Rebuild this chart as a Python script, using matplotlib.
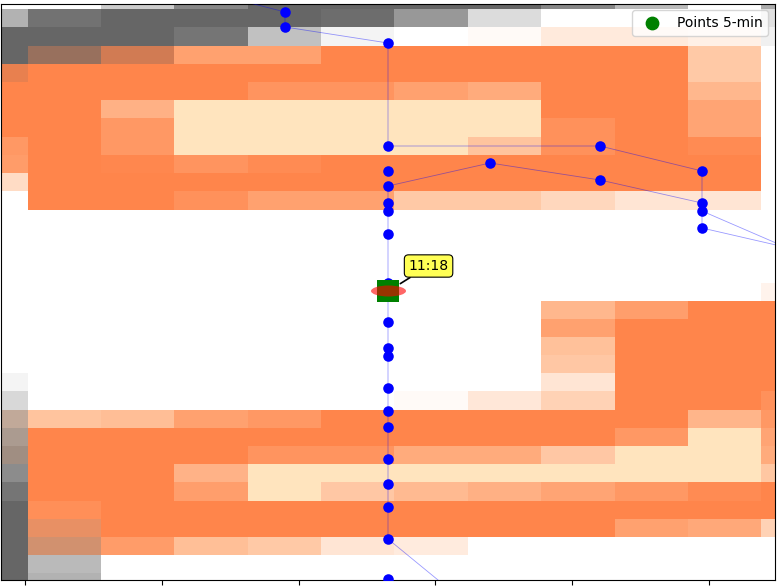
import numpy as np
import matplotlib
matplotlib.use('Agg')
import matplotlib.pyplot as plt
from matplotlib.colors import LinearSegmentedColormap
from matplotlib.patches import Ellipse

M = 120  # top class, drawn pale yellow

x_edges = [1, 28, 101, 174, 248, 321, 394, 468, 541, 615, 688, 761, 775]
y_edges = [3.5, 9, 27, 46, 64, 82, 100, 118, 137, 155, 173, 191, 210, 228, 246, 264, 283,
           301, 319, 337, 355, 373, 391, 410, 428, 446, 464, 482, 501, 519, 537, 555, 573, 579.5]

orange = [
    [0, 0, 0, 0, 0, 0, 0, 0, 0, 0, 0, 0],
    [0, 0, 0, 0, 0, 0, 0, 0, 0, 0, 0, 0],
    [0, 0, 0, 0, 0, 0, 0, 4, 18, 18, 13, 0],
    [0, 100, 100, 78, 78, 100, 100, 100, 100, 100, 46, 0],
    [100, 100, 100, 100, 100, 100, 100, 100, 100, 100, 46, 0],
    [100, 100, 100, 100, 88, 88, 78, 70, 100, 100, 60, 0],
    [100, 100, 65, M, M, M, M, M, 100, 100, 75, 0],
    [100, 100, 85, M, M, M, M, M, 90, 100, 75, 0],
    [85, 100, 85, M, M, M, M, 50, 90, 100, 95, 0],
    [82, 100, 98, 88, 95, 100, 100, 100, 100, 100, 100, 0],
    [30, 100, 100, 100, 100, 100, 100, 100, 100, 100, 100, 0],
    [0, 100, 100, 90, 78, 78, 46, 46, 34, 22, 22, 0],
    [0, 0, 0, 0, 0, 0, 0, 0, 0, 0, 0, 0],
    [0, 0, 0, 0, 0, 0, 0, 0, 0, 0, 0, 0],
    [0, 0, 0, 0, 0, 0, 0, 0, 0, 0, 0, 0],
    [0, 0, 0, 0, 0, 0, 0, 0, 0, 0, 0, 0],
    [0, 0, 0, 0, 0, 0, 0, 0, 0, 0, 0, 10],
    [0, 0, 0, 0, 0, 0, 0, 0, 60, 80, 100, 100],
    [0, 0, 0, 0, 0, 0, 0, 0, 78, 100, 100, 100],
    [0, 0, 0, 0, 0, 0, 0, 0, 52, 100, 100, 100],
    [0, 0, 0, 0, 0, 0, 0, 0, 47, 100, 100, 100],
    [0, 0, 0, 0, 0, 0, 0, 0, 22, 100, 100, 100],
    [0, 0, 0, 0, 0, 0, 4, 20, 38, 100, 100, 90],
    [35, 50, 55, 78, 85, 100, 100, 100, 100, 100, 62, 85],
    [30, 100, 100, 100, 100, 100, 100, 100, 100, 85, M, 75],
    [40, 100, 100, 100, 88, 88, 70, 70, 47, M, M, 70],
    [0, 100, 100, 64, M, M, M, M, M, M, M, 48],
    [0, 100, 100, 80, M, 47, 58, 66, 75, 85, 95, 100],
    [0, 92, 100, 100, 100, 100, 100, 100, 100, 100, 100, 100],
    [0, 85, 100, 100, 100, 100, 100, 100, 100, 78, 72, 38],
    [0, 75, 82, 54, 46, 22, 17, 0, 0, 0, 0, 0],
    [0, 0, 0, 0, 0, 0, 0, 0, 0, 0, 0, 0],
    [0, 0, 0, 0, 0, 0, 0, 0, 0, 0, 0, 0],
]

grey = [
    [0, 0, .33, .78, 1, 1, 1, 1, .78, .45, 0, .55],
    [.5, .92, 1, 1, 1, .95, .67, .23, 0, 0, 0, .2],
    [1, 1, 1, .9, .4, .07, 0, 0, 0, 0, 0, .1],
    [1, .67, .3, 0, 0, 0, 0, 0, 0, 0, 0, 0],
    [.15, 0, 0, 0, 0, 0, 0, 0, 0, 0, 0, 0],
    [0, 0, 0, 0, 0, 0, 0, 0, 0, 0, 0, 0],
    [0, 0, 0, 0, 0, 0, 0, 0, 0, 0, 0, 0],
    [0, 0, 0, 0, 0, 0, 0, 0, 0, 0, 0, 0],
    [0, 0, 0, 0, 0, 0, 0, 0, 0, 0, 0, 0],
    [0, 0, 0, 0, 0, 0, 0, 0, 0, 0, 0, 0],
    [0, 0, 0, 0, 0, 0, 0, 0, 0, 0, 0, 0],
    [0, 0, 0, 0, 0, 0, 0, 0, 0, 0, 0, 0],
    [0, 0, 0, 0, 0, 0, 0, 0, 0, 0, 0, 0],
    [0, 0, 0, 0, 0, 0, 0, 0, 0, 0, 0, 0],
    [0, 0, 0, 0, 0, 0, 0, 0, 0, 0, 0, 0],
    [0, 0, 0, 0, 0, 0, 0, 0, 0, 0, 0, 0],
    [0, 0, 0, 0, 0, 0, 0, 0, 0, 0, 0, 0],
    [0, 0, 0, 0, 0, 0, 0, 0, 0, 0, 0, 0],
    [0, 0, 0, 0, 0, 0, 0, 0, 0, 0, 0, 0],
    [0, 0, 0, 0, 0, 0, 0, 0, 0, 0, 0, 0],
    [0, 0, 0, 0, 0, 0, 0, 0, 0, 0, 0, 0],
    [.07, 0, 0, 0, 0, 0, 0, 0, 0, 0, 0, 0],
    [.25, 0, 0, 0, 0, 0, 0, 0, 0, 0, 0, 0],
    [.4, 0, 0, 0, 0, 0, 0, 0, 0, 0, 0, 0],
    [.55, 0, 0, 0, 0, 0, 0, 0, 0, 0, 0, 0],
    [.62, 0, 0, 0, 0, 0, 0, 0, 0, 0, 0, 0],
    [.75, 0, 0, 0, 0, 0, 0, 0, 0, 0, 0, 0],
    [.9, 0, 0, 0, 0, 0, 0, 0, 0, 0, 0, 0],
    [1, 0, 0, 0, 0, 0, 0, 0, 0, 0, 0, 0],
    [1, .15, 0, 0, 0, 0, 0, 0, 0, 0, 0, 0],
    [1, .3, 0, 0, 0, 0, 0, 0, 0, 0, 0, 0],
    [1, .45, 0, 0, 0, 0, 0, 0, 0, 0, 0, 0],
    [1, .5, 0, 0, 0, 0, 0, 0, 0, 0, 0, 0],
]

# tracks (nan breaks the line)
track_x = [250, 285, 285, 388, 388, 600, 702, 702, 600, 490, 388, 388, 438, np.nan, 776, 702, 702, 776]
track_y = [3, 12, 27, 43, 146, 146, 171, 203, 180, 163, 186, 539, 580, np.nan, 243, 211, 228, 245]

point_x = [285, 285, 388, 388, 388, 388, 388, 388, 388, 388, 388, 388, 388, 388, 388, 388, 388, 388, 388, 388,
           388, 490, 600, 600, 702, 702, 702, 702]
point_y = [12, 27, 43, 146, 171, 186, 203, 211, 234, 283, 322, 348, 356, 388, 411, 427, 459, 484, 507, 539,
           578.5, 163, 146, 180, 171, 203, 211, 228]

current_x = [388.5]
current_y = [291]
current_label = '11:18'
tick_pos = [25.5, 162.5, 299.5, 435.5, 572.3, 709.5]


def main():
    fig = plt.figure(figsize=(7.78, 5.86), dpi=100)
    ax = fig.add_axes([1 / 778, 1 - 579.5 / 586, 774 / 778, 576 / 586])

    cmap_o = LinearSegmentedColormap.from_list('o', ['#ffffff', '#ffc49e', '#ff854b'])
    cmap_o.set_over('#ffe4be')
    ax.pcolormesh(x_edges, y_edges, np.array(orange), cmap=cmap_o, vmin=0, vmax=100, zorder=1)

    cmap_g = LinearSegmentedColormap.from_list('g', [(0.4, 0.4, 0.4, 0), (0.4, 0.4, 0.4, 1)])
    ax.pcolormesh(x_edges, y_edges, np.array(grey), cmap=cmap_g, vmin=0, vmax=1, zorder=2)

    ax.plot(track_x, track_y, color='blue', lw=0.6, alpha=0.4, zorder=3)
    ax.plot(point_x, point_y, 'o', color='blue', ms=7.6, mew=0, zorder=4)

    ax.plot(current_x, current_y, 's', color='green', ms=15.5, mew=0, zorder=5)
    ax.add_patch(Ellipse((current_x[0], current_y[0]), 35, 11, fc='red', ec='none', alpha=0.6, zorder=6))
    ax.scatter([], [], color='green', s=80, label='Points 5-min')

    ax.annotate(current_label, xy=(current_x[0], current_y[0]), xytext=(408.5, 266), fontsize=10,
                va='center', ha='left', zorder=8,
                bbox=dict(boxstyle='round,pad=0.3', fc='#ffff55', ec='black', lw=0.8),
                arrowprops=dict(arrowstyle='-', color='black', lw=1.2, shrinkA=0, shrinkB=10))

    ax.set_xlim(1, 775)
    ax.set_ylim(579.5, 3.5)
    ax.set_xticks(tick_pos)
    ax.set_xticklabels([])
    ax.set_yticks([])
    ax.legend(loc='upper right', fontsize=10)
    fig.savefig('out.png', dpi=100)


if __name__ == "__main__":
    main()
